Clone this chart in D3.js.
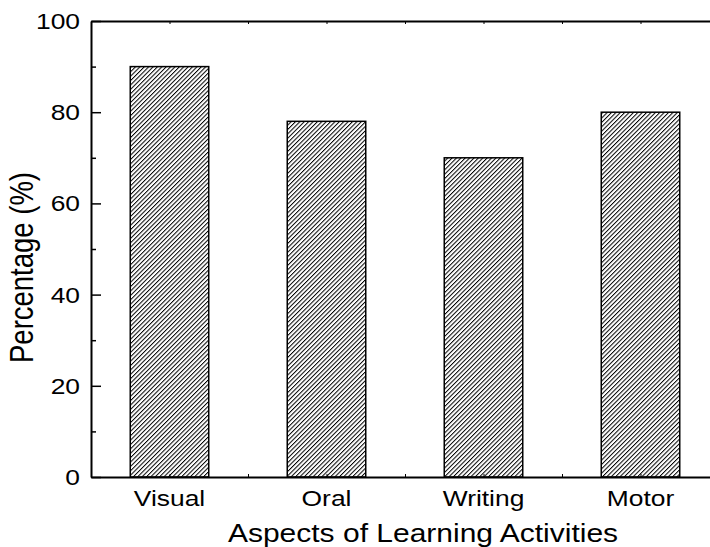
<!DOCTYPE html>
<html><head><meta charset="utf-8">
<script src="https://cdn.jsdelivr.net/npm/d3@7"></script>
<style>
body{margin:0;background:#fff}
svg{display:block}
text{font-family:"Liberation Sans",Arial,sans-serif;fill:#000}
</style>
</head><body>
<svg id="c" width="710" height="547"></svg>
<script>
const categories = ["Visual", "Oral", "Writing", "Motor"];
const percentages = [90, 78, 70, 80];
const yTickValues = [0, 20, 40, 60, 80, 100];
const yMinorTickValues = [10, 30, 50, 70, 90];
const xTitle = "Aspects of Learning Activities";
const yTitle = "Percentage (%)";

const svg = d3.select("#c");
const x = d3.scaleLinear().domain([0.5, 4.5]).range([91, 719]);
const y = d3.scaleLinear().domain([0, 100]).range([477, 21]);
const SX = 1.2; // horizontal stretch of the lettering in the reference

// hatch pattern
const defs = svg.append("defs");
const HP = 3.1;
const pat = defs.append("pattern").attr("id", "hatch")
  .attr("patternUnits", "userSpaceOnUse").attr("width", HP).attr("height", HP)
  .attr("patternTransform", "rotate(45)");
pat.append("rect").attr("width", HP).attr("height", HP).attr("fill", "#fff");
pat.append("line").attr("x1", 0.5).attr("y1", 0).attr("x2", 0.5).attr("y2", HP)
  .attr("stroke", "#000").attr("stroke-width", 1);

// bars
const barW = 0.5;
svg.append("g").selectAll("rect").data(categories).join("rect")
  .attr("x", (d, i) => x(i + 1 - barW / 2))
  .attr("width", x(1 + barW / 2) - x(1 - barW / 2))
  .attr("y", (d, i) => y(percentages[i]))
  .attr("height", (d, i) => y(0) - y(percentages[i]))
  .attr("fill", "url(#hatch)")
  .attr("stroke", "#000").attr("stroke-width", 1.5);

// x axes (bottom & top)
const xTickVals = d3.range(1, 4.51, 0.5);
const gb = svg.append("g").attr("transform", `translate(0,${y(0)})`)
  .call(d3.axisBottom(x).tickValues(xTickVals).tickSize(-3).tickSizeOuter(0).tickFormat(""));
const gt = svg.append("g").attr("transform", `translate(0,${y(100)})`)
  .call(d3.axisTop(x).tickValues(xTickVals).tickSize(-3).tickSizeOuter(0).tickFormat(""));
[gb, gt].forEach(g => {
  g.select(".domain").attr("stroke", "#000").attr("stroke-width", 2);
  g.selectAll(".tick line").attr("stroke", "#000").attr("stroke-width", 1);
});

// y axis
const gl = svg.append("g").attr("transform", `translate(${x(0.5)},0)`)
  .call(d3.axisLeft(y).tickValues(yTickValues).tickSize(-10).tickSizeOuter(0).tickFormat(""));
gl.select(".domain").attr("stroke", "#000").attr("stroke-width", 2);
gl.selectAll(".tick line").attr("stroke", "#000").attr("stroke-width", 1.5);
const glm = svg.append("g").attr("transform", `translate(${x(0.5)},0)`)
  .call(d3.axisLeft(y).tickValues(yMinorTickValues).tickSize(-5).tickSizeOuter(0).tickFormat(""));
glm.select(".domain").remove();
glm.selectAll(".tick line").attr("stroke", "#000").attr("stroke-width", 1.5);

// y tick labels
svg.append("g").selectAll("text").data(yTickValues).join("text")
  .attr("transform", d => `translate(${x(0.5) - 11},${y(d) + 8}) scale(${SX},1)`)
  .attr("text-anchor", "end").attr("font-size", 22)
  .text(d => d);

// x tick labels
svg.append("g").selectAll("text").data(categories).join("text")
  .attr("transform", (d, i) => `translate(${x(i + 1)},506) scale(${SX},1)`)
  .attr("text-anchor", "middle").attr("font-size", 22)
  .text(d => d);

// titles
svg.append("text")
  .attr("transform", `translate(423,542) scale(${SX},1)`)
  .attr("text-anchor", "middle").attr("font-size", 25)
  .text(xTitle);
svg.append("text")
  .attr("transform", `translate(33,267.5) scale(${SX},1) rotate(-90)`)
  .attr("text-anchor", "middle").attr("font-size", 27.5)
  .text(yTitle);
</script>
</body></html>
